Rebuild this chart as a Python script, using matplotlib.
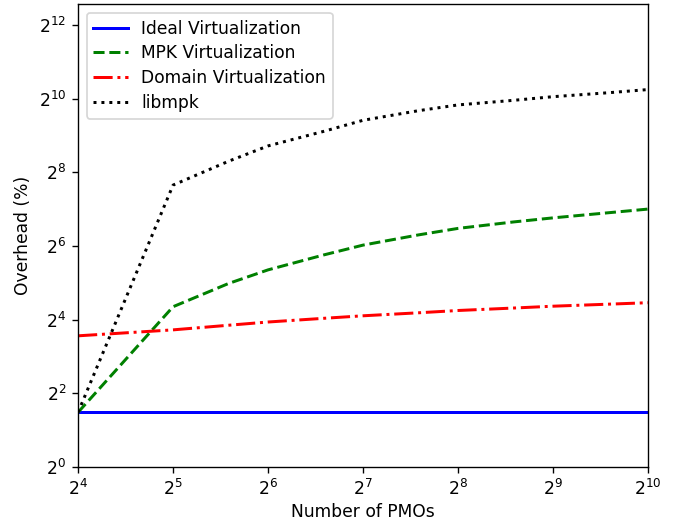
import numpy as np
import matplotlib
matplotlib.use("Agg")
import matplotlib.pyplot as plt

# number of PMOs (x) and overhead in percent (y)
pmos = [16, 32, 48, 64, 96, 128, 192, 256, 384, 512, 768, 1024]
ideal = [2.8] * len(pmos)
mpk_virt = [2.8, 20.4, 31.6, 40.8, 54.0, 65.0, 78.8, 89.0, 100.5, 108.5, 119.5, 128.0]
domain_virt = [11.8, 13.2, 14.4, 15.3, 16.4, 17.2, 18.2, 19.0, 19.9, 20.6, 21.4, 22.0]
libmpk = [2.8, 201, 315, 420, 552, 680, 815, 908, 990, 1060, 1142, 1212]

xticks = [2**k for k in range(4, 11)]
yticks = [2**k for k in range(0, 13, 2)]

DPI = 123
fig, ax = plt.subplots(figsize=(685 / DPI, 523 / DPI), dpi=DPI)
fig.subplots_adjust(left=0.114, right=0.946, top=0.992, bottom=0.107)

lw = 1.75
ax.plot(pmos, ideal, 'b-', lw=lw, label="Ideal Virtualization")
ax.plot(pmos, mpk_virt, 'g--', lw=lw, label="MPK Virtualization")
ax.plot(pmos, domain_virt, 'r-.', lw=lw, label="Domain Virtualization")
ax.plot(pmos, libmpk, 'k:', lw=lw, label="libmpk")

ax.set_xscale('log', base=2)
ax.set_yscale('log', base=2)
ax.set_xlim(16, 1024)
ax.set_ylim(1, 2**12.56)
ax.set_xticks(xticks)
ax.set_yticks(yticks)
ax.minorticks_off()

ax.set_xlabel("Number of PMOs", labelpad=2)
ax.set_ylabel("Overhead (%)")
ax.legend(loc='upper left', labelspacing=0.4)

fig.savefig("out.png", dpi=DPI)
